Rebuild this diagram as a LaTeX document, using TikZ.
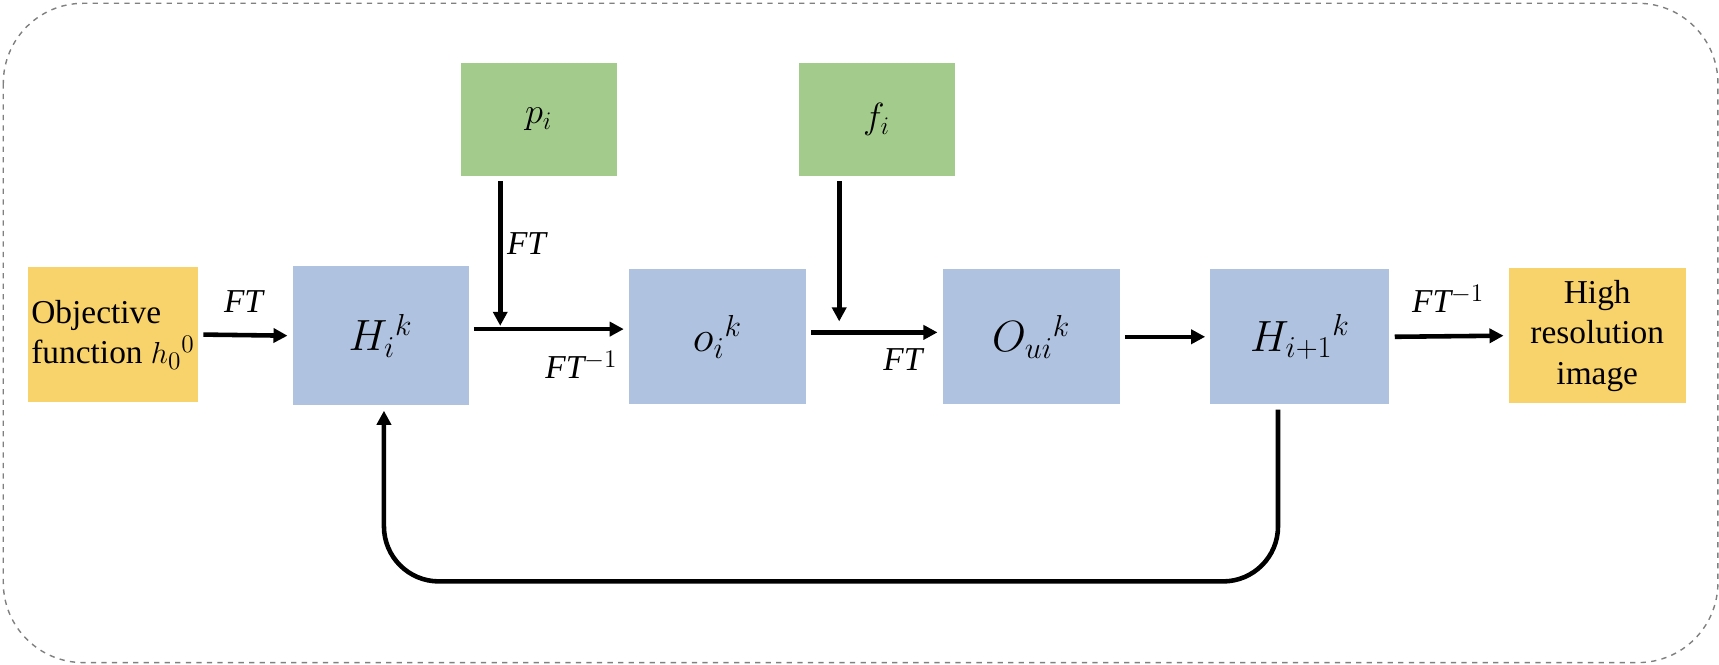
\documentclass[tikz,border=0pt]{standalone}
\usepackage{fontspec}
\setmainfont{Liberation Serif}
\usetikzlibrary{arrows.meta,shadows}
\definecolor{bl}{HTML}{AFC2E0}
\definecolor{gr}{HTML}{A3CC8C}
\definecolor{ye}{HTML}{F8D26A}
\begin{document}
\begin{tikzpicture}[x=0.02194cm,y=-0.02194cm,
 box/.style 2 args={draw=white,line width=3pt,minimum width=#1*0.02194cm,minimum height=#2*0.02194cm,inner sep=2pt,drop shadow={opacity=0.3,shadow xshift=1.5pt,shadow yshift=-1.5pt}},
 arr/.style={line width=2.6pt,-{Triangle[length=8pt,width=8pt]}},
 lab/.style={font=\fontsize{19}{22}\selectfont\itshape}]
\useasboundingbox (0,0) rectangle (1567,606);
\draw[dashed,gray,line width=0.8pt,rounded corners=1.6cm] (3,3) rectangle (1566,604);
\node[box={160}{128},fill=ye,align=left,font=\fontsize{19}{23}\selectfont] (obj) at (103,305) {Objective\\function $h_0{}^0$};
\node[box={165}{132},fill=bl,font=\fontsize{24}{26}\selectfont] (H) at (347,306) {$H_i{}^k$};
\node[box={147}{108},fill=gr,font=\fontsize{22}{26}\selectfont] (p) at (491,109) {$p_i$};
\node[box={166}{128},fill=bl,font=\fontsize{24}{26}\selectfont] (o) at (654,307) {$o_i{}^k$};
\node[box={147}{108},fill=gr,font=\fontsize{22}{26}\selectfont] (f) at (799,109) {$f_i$};
\node[box={166}{128},fill=bl,font=\fontsize{24}{26}\selectfont] (Ou) at (940,307) {$O_{ui}{}^k$};
\node[box={168}{128},fill=bl,font=\fontsize{24}{26}\selectfont] (H1) at (1185,307) {$H_{i+1}{}^k$};
\node[box={166}{128},fill=ye,align=center,font=\fontsize{19}{23}\selectfont] (hi) at (1456,306) {High\\resolution\\image};
\draw[arr] (obj.east) -- (H.west);
\draw[arr] (H.east|-0,300) -- (o.west|-0,300);
\coordinate (pj) at (456,297);
\coordinate (fj) at (765,293);
\draw[arr] (p.south-|pj) -- (pj);
\draw[arr] (f.south-|fj) -- (fj);
\draw[arr] (o.east|-0,303) -- (Ou.west|-0,303);
\draw[arr] (Ou.east) -- (H1.west);
\draw[arr] (H1.east) -- (hi.west);
\draw[arr,rounded corners=1.1cm] (H1.south-|1165,0) -- (1165,530) -- (350,530) -- (H.south-|350,0);
\node[lab] (l1) at (222,275) {FT};
\node[lab] (l2) at (480,222) {FT};
\node[lab] (l3) at (530,333) {FT$^{-1}$};
\node[lab] (l4) at (823,328) {FT};
\node[lab] (l5) at (1320,272) {FT$^{-1}$};
\end{tikzpicture}
\end{document}
